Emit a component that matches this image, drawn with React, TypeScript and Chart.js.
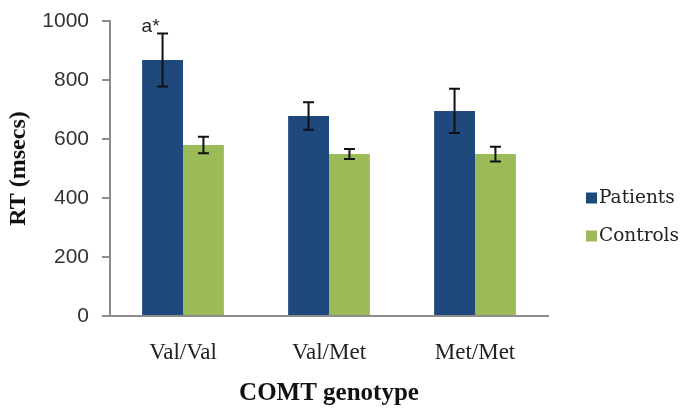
import React, { useEffect, useRef } from "react";
import { Chart, registerables } from "chart.js";

Chart.register(...registerables);

const categories = ["Val/Val", "Val/Met", "Met/Met"];
const seriesNames = ["Patients", "Controls"];
const patients = [868, 678, 695];
const patientsErr = [90, 47, 75];
const controls = [580, 549, 549];
const controlsErr = [28, 17, 25];
const patientsMarks = ["a*", "", ""];
const controlsMarks = ["", "", ""];
const yMin = 0;
const yMax = 1000;
const yStep = 200;
const xTitle = "COMT genotype";
const yTitle = "RT (msecs)";

const colors = ["#1F497D", "#9BBB59"];
const errors = [patientsErr, controlsErr];
const marks = [patientsMarks, controlsMarks];

const errorBarPlugin = {
  id: "errorBars",
  afterDatasetsDraw(chart: any) {
    const ctx = chart.ctx;
    const yScale = chart.scales.y;
    chart.data.datasets.forEach((ds: any, i: number) => {
      const meta = chart.getDatasetMeta(i);
      meta.data.forEach((bar: any, j: number) => {
        const v = ds.data[j];
        const e = errors[i][j];
        const yTop = yScale.getPixelForValue(v + e);
        const yBot = yScale.getPixelForValue(v - e);
        const x = bar.x;
        ctx.save();
        ctx.strokeStyle = "#111";
        ctx.lineWidth = 2;
        ctx.beginPath();
        ctx.moveTo(x, yTop);
        ctx.lineTo(x, yBot);
        ctx.moveTo(x - 5.5, yTop);
        ctx.lineTo(x + 5.5, yTop);
        ctx.moveTo(x - 5.5, yBot);
        ctx.lineTo(x + 5.5, yBot);
        ctx.stroke();
        const m = marks[i][j];
        if (m) {
          ctx.fillStyle = "#222";
          ctx.font = "19px 'Liberation Sans', Arial, sans-serif";
          ctx.textAlign = "right";
          ctx.textBaseline = "alphabetic";
          ctx.fillText(m, x - 3, yTop - 1);
        }
        ctx.restore();
      });
    });
  },
};

const legendPlugin = {
  id: "customLegend",
  afterDraw(chart: any) {
    const ctx = chart.ctx;
    const area = chart.chartArea;
    const x0 = area.right + 38;
    const yStart = 198;
    const gap = 38;
    chart.data.datasets.forEach((ds: any, i: number) => {
      const yc = yStart + i * gap;
      ctx.save();
      ctx.fillStyle = ds.backgroundColor;
      ctx.fillRect(x0, yc - 5.5, 11, 11);
      ctx.fillStyle = "#222";
      ctx.font = "18.5px 'DejaVu Serif', serif";
      ctx.textAlign = "left";
      ctx.textBaseline = "middle";
      ctx.fillText(ds.label, x0 + 13, yc);
      ctx.restore();
    });
  },
};

export default function App() {
  const ref = useRef<HTMLCanvasElement | null>(null);

  useEffect(() => {
    if (!ref.current) return;
    const chart = new Chart(ref.current, {
      type: "bar",
      data: {
        labels: categories,
        datasets: [
          { label: seriesNames[0], data: patients, backgroundColor: colors[0] },
          { label: seriesNames[1], data: controls, backgroundColor: colors[1] },
        ],
      },
      options: {
        animation: false,
        responsive: true,
        maintainAspectRatio: false,
        layout: { padding: { top: 21, right: 137, bottom: 0, left: 0 } },
        datasets: {
          bar: { categoryPercentage: 0.56, barPercentage: 1 },
        },
        plugins: {
          legend: { display: false },
          tooltip: { enabled: false },
        },
        scales: {
          x: {
            afterFit: (s: any) => {
              s.height = 95;
            },
            grid: { display: false, drawTicks: false },
            border: { display: true, color: "#8c8c8c", width: 2 },
            ticks: {
              padding: 23,
              color: "#222",
              font: { family: "'Liberation Serif', 'Times New Roman', serif", size: 23 },
            },
            title: {
              display: true,
              text: xTitle,
              color: "#111",
              font: { family: "'Liberation Serif', 'Times New Roman', serif", size: 25, weight: "bold" },
              padding: { top: 0, bottom: 2 },
            },
          },
          y: {
            min: yMin,
            max: yMax,
            afterFit: (s: any) => {
              s.width = 110;
              s.paddingTop = 2;
              s.paddingBottom = 2;
            },
            grid: {
              display: true,
              drawOnChartArea: false,
              drawTicks: true,
              tickLength: 8,
              color: "#8c8c8c",
              lineWidth: 2,
            },
            border: { display: true, color: "#8c8c8c", width: 2 },
            ticks: {
              stepSize: yStep,
              padding: 13,
              color: "#333",
              callback: (v: any) => String(v),
              font: { family: "'Liberation Sans', Arial, sans-serif", size: 21 },
            },
            title: {
              display: true,
              text: yTitle,
              color: "#111",
              font: { family: "'Liberation Serif', 'Times New Roman', serif", size: 24, weight: "bold" },
              padding: { top: 4, bottom: 0 },
            },
          },
        },
      },
      plugins: [errorBarPlugin, legendPlugin],
    });
    return () => chart.destroy();
  }, []);

  return (
    <div style={{ position: "fixed", left: 0, top: 0, width: 685, height: 411, background: "#fff" }}>
      <canvas ref={ref} />
    </div>
  );
}
